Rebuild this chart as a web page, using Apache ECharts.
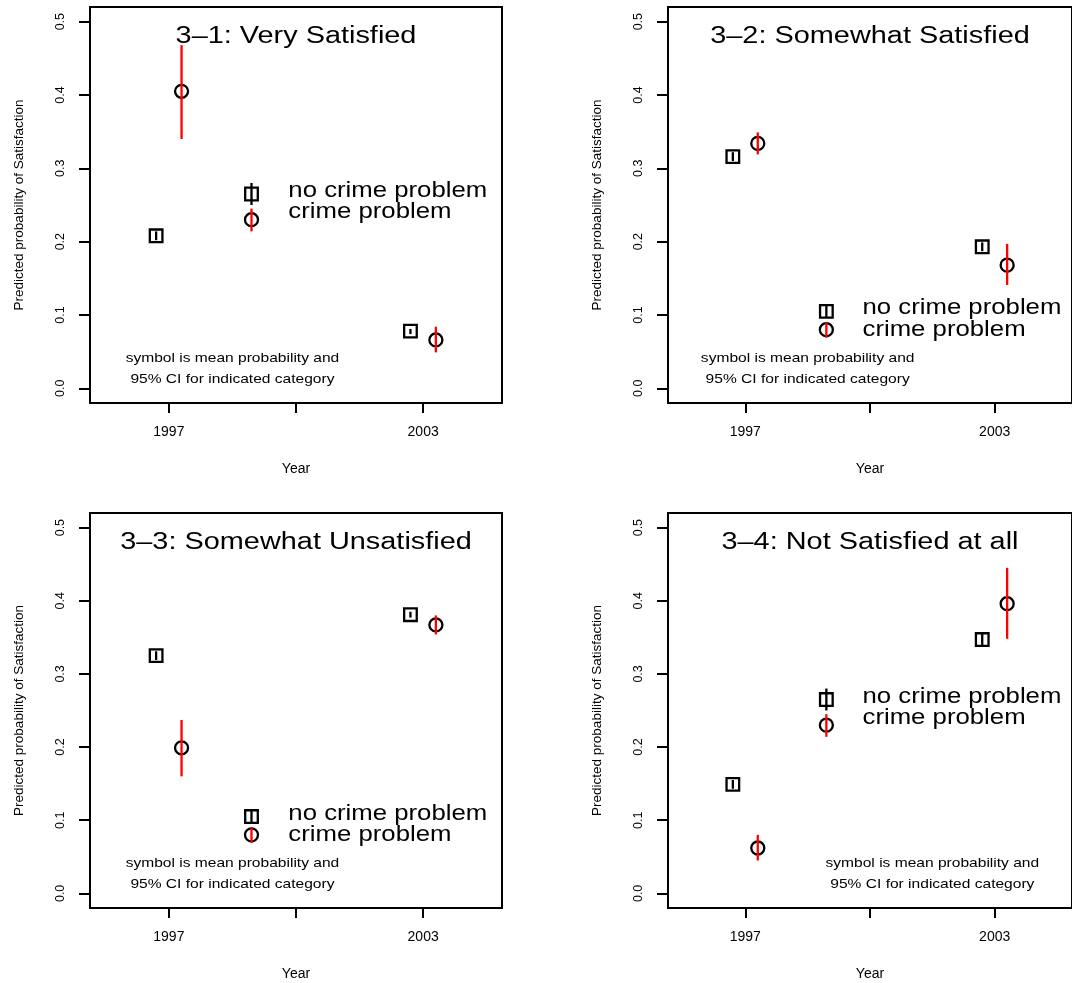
<!DOCTYPE html>
<html>
<head>
<meta charset="utf-8">
<script src="https://cdn.jsdelivr.net/npm/echarts@6/dist/echarts.min.js"></script>
<style>
html,body{margin:0;padding:0;background:#fff;}
#chart{width:1072px;height:983px;}
</style>
</head>
<body>
<div id="chart"></div>
<script>
// ---- data ----
const titles = ['3\u20131: Very Satisfied', '3\u20132: Somewhat Satisfied', '3\u20133: Somewhat Unsatisfied', '3\u20134: Not Satisfied at all'];
const xNoCrime = [1996.7, 2002.7];
const xCrime = [1997.3, 2003.3];
const xTickValues = [1997, 2000, 2003];
const xLabelValues = [1997, 2003];
const yTickValues = [0, 0.1, 0.2, 0.3, 0.4, 0.5];

// 3-1 Very Satisfied
const vsNoCrime = [0.208, 0.078];
const vsNoCrimeLo = [0.202, 0.074];
const vsNoCrimeHi = [0.214, 0.081];
const vsCrime = [0.405, 0.066];
const vsCrimeLo = [0.340, 0.049];
const vsCrimeHi = [0.468, 0.084];
// 3-2 Somewhat Satisfied
const ssNoCrime = [0.316, 0.193];
const ssNoCrimeLo = [0.310, 0.187];
const ssNoCrimeHi = [0.322, 0.199];
const ssCrime = [0.334, 0.168];
const ssCrimeLo = [0.319, 0.141];
const ssCrimeHi = [0.349, 0.197];
// 3-3 Somewhat Unsatisfied
const suNoCrime = [0.325, 0.381];
const suNoCrimeLo = [0.319, 0.377];
const suNoCrimeHi = [0.331, 0.385];
const suCrime = [0.199, 0.367];
const suCrimeLo = [0.160, 0.354];
const suCrimeHi = [0.237, 0.380];
// 3-4 Not Satisfied at all
const nsNoCrime = [0.149, 0.347];
const nsNoCrimeLo = [0.143, 0.339];
const nsNoCrimeHi = [0.155, 0.357];
const nsCrime = [0.062, 0.396];
const nsCrimeLo = [0.045, 0.348];
const nsCrimeHi = [0.080, 0.445];

// legend key (drawn in data space, as in the original)
const legendLabels = ['no crime problem', 'crime problem'];
const legendSymbolX = 1998.95;
const legendTextX = 1999.82;
const legendHigh = [0.265, 0.250, 0.280, 0.230, 0.214, 0.245];   // sq, sqLo, sqHi, circ, circLo, circHi
const legendHighText = [0.269, 0.2405];
const legendLow = [0.105, 0.096, 0.114, 0.080, 0.069, 0.090];
const legendLowText = [0.109, 0.080];
const noteLines = ['symbol is mean probability and', '95% CI for indicated category'];
const noteX = [1998.5, 1998.5, 1998.5, 2001.5];
const noteY = [0.041, 0.012];
const titleX = 2000, titleY = 0.48;

// ---- build ----
const panelData = [
  {nc: vsNoCrime, ncLo: vsNoCrimeLo, ncHi: vsNoCrimeHi, c: vsCrime, cLo: vsCrimeLo, cHi: vsCrimeHi, leg: legendHigh, legT: legendHighText},
  {nc: ssNoCrime, ncLo: ssNoCrimeLo, ncHi: ssNoCrimeHi, c: ssCrime, cLo: ssCrimeLo, cHi: ssCrimeHi, leg: legendLow, legT: legendLowText},
  {nc: suNoCrime, ncLo: suNoCrimeLo, ncHi: suNoCrimeHi, c: suCrime, cLo: suCrimeLo, cHi: suCrimeHi, leg: legendLow, legT: legendLowText},
  {nc: nsNoCrime, ncLo: nsNoCrimeLo, ncHi: nsNoCrimeHi, c: nsCrime, cLo: nsCrimeLo, cHi: nsCrimeHi, leg: legendHigh, legT: legendHighText}
];

const FONT = '"Liberation Sans", Arial, Helvetica, sans-serif';
const SX = 1.17;
const grids = [
  {left: 90, top: 7, width: 412, height: 396},
  {left: 668, top: 7, width: 412, height: 396},
  {left: 90, top: 513, width: 412, height: 395},
  {left: 668, top: 513, width: 412, height: 395}
];

function renderMark(params, api) {
  const x = api.value(0), y = api.value(1), lo = api.value(2), hi = api.value(3), kind = api.value(4);
  const c = api.coord([x, y]);
  const pLo = api.coord([x, lo]);
  const pHi = api.coord([x, hi]);
  const children = [];
  if (kind === 0) {
    children.push({type: 'rect', shape: {x: c[0] - 6.3, y: c[1] - 6.3, width: 12.6, height: 12.6},
      style: {fill: 'none', stroke: '#000', lineWidth: 2.3}});
  } else {
    children.push({type: 'circle', shape: {cx: c[0], cy: c[1], r: 6.5},
      style: {fill: 'none', stroke: '#000', lineWidth: 2.3}});
  }
  children.push({type: 'line', shape: {x1: pLo[0], y1: pLo[1], x2: pHi[0], y2: pHi[1]},
    style: {stroke: kind === 0 ? '#000' : '#ff0000', lineWidth: 2.3}});
  return {type: 'group', children: children};
}

const option = {
  animation: false,
  backgroundColor: '#fff',
  grid: [], xAxis: [], yAxis: [], series: []
};

panelData.forEach(function (p, i) {
  option.grid.push(Object.assign({show: true, borderColor: '#000', borderWidth: 2, backgroundColor: 'transparent', containLabel: false}, grids[i]));
  option.xAxis.push({
    type: 'value', gridIndex: i, min: 1995.14, max: 2004.86, position: 'bottom',
    axisLine: {show: false, onZero: false},
    splitLine: {show: false},
    axisTick: {show: true, inside: false, customValues: xTickValues, length: 10, lineStyle: {color: '#000', width: 2}},
    axisLabel: {customValues: xLabelValues, formatter: function (v) { return String(Math.round(v)); },
      color: '#000', fontFamily: FONT, fontSize: 14, margin: 22},
    name: 'Year', nameLocation: 'middle', nameGap: 59,
    nameTextStyle: {color: '#000', fontFamily: FONT, fontSize: 14}
  });
  option.yAxis.push({
    type: 'value', gridIndex: i, min: -0.02, max: 0.52, position: 'left',
    axisLine: {show: false, onZero: false},
    splitLine: {show: false},
    axisTick: {show: true, inside: false, customValues: yTickValues, length: 11, lineStyle: {color: '#000', width: 2}},
    axisLabel: {customValues: yTickValues, formatter: function (v) { return v.toFixed(1); },
      rotate: 90, color: '#000', fontFamily: FONT, fontSize: 12.5, margin: 23},
    name: 'Predicted probability of Satisfaction', nameLocation: 'middle', nameGap: 64,
    nameTextStyle: {color: '#000', fontFamily: FONT, fontSize: 13.5}
  });

  const marks = [];
  for (let k = 0; k < 2; k++) {
    marks.push([xNoCrime[k], p.nc[k], p.ncLo[k], p.ncHi[k], 0]);
    marks.push([xCrime[k], p.c[k], p.cLo[k], p.cHi[k], 1]);
  }
  marks.push([legendSymbolX, p.leg[0], p.leg[1], p.leg[2], 0]);
  marks.push([legendSymbolX, p.leg[3], p.leg[4], p.leg[5], 1]);
  option.series.push({
    type: 'custom', xAxisIndex: i, yAxisIndex: i, renderItem: renderMark, data: marks, silent: true
  });

  const texts = [
    {x: titleX, y: titleY, t: titles[i], size: 24.7, align: 'center'},
    {x: legendTextX, y: p.legT[0], t: legendLabels[0], size: 22, align: 'left'},
    {x: legendTextX, y: p.legT[1], t: legendLabels[1], size: 22, align: 'left'},
    {x: noteX[i], y: noteY[0], t: noteLines[0], size: 13.3, align: 'center'},
    {x: noteX[i], y: noteY[1], t: noteLines[1], size: 13.3, align: 'center'}
  ];
  option.series.push({
    type: 'custom', xAxisIndex: i, yAxisIndex: i, silent: true,
    data: texts.map(function (d) { return [d.x, d.y]; }),
    renderItem: function (params, api) {
      const d = texts[params.dataIndex];
      const c = api.coord([api.value(0), api.value(1)]);
      return {type: 'text', x: c[0], y: c[1], scaleX: SX,
        style: {text: d.t, fill: '#000', fontFamily: FONT, fontSize: d.size,
          align: d.align, verticalAlign: 'middle'}};
    }
  });
});

const chart = echarts.init(document.getElementById('chart'), null, {renderer: 'canvas'});
chart.setOption(option);
</script>
</body>
</html>
